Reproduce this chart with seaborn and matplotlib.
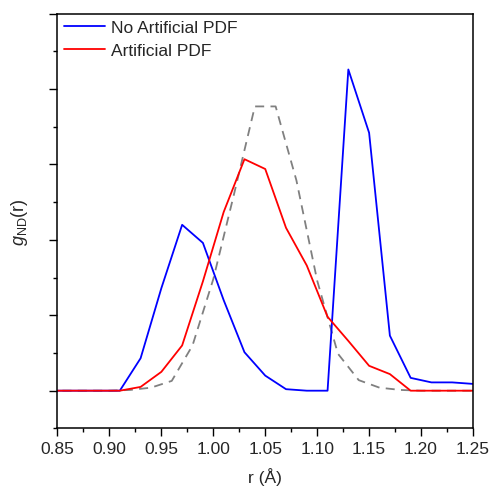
import numpy as np
import pandas as pd
import matplotlib
matplotlib.use("Agg")
import matplotlib.pyplot as plt
import seaborn as sns

# ---- data ----
r_main = [0.85, 0.87, 0.89, 0.91, 0.93, 0.95, 0.97, 0.99, 1.01, 1.03, 1.05,
          1.07, 1.09, 1.11, 1.13, 1.15, 1.17, 1.19, 1.21, 1.23, 1.25]
g_no_art = [0.0, 0.0, 0.0, 0.0, 0.43, 1.36, 2.20, 1.96, 1.20, 0.51, 0.20,
            0.02, 0.0, 0.0, 4.26, 3.42, 0.73, 0.17, 0.11, 0.11, 0.09]
g_art = [0.0, 0.0, 0.0, 0.0, 0.05, 0.25, 0.60, 1.45, 2.37, 3.07, 2.94,
         2.16, 1.66, 0.98, 0.66, 0.33, 0.22, 0.0, 0.0, 0.0, 0.0]
r_ref = [0.84, 0.86, 0.88, 0.90, 0.92, 0.94, 0.96, 0.98, 1.00, 1.02, 1.04,
         1.06, 1.08, 1.10, 1.12, 1.14, 1.16, 1.18, 1.20, 1.22, 1.24, 1.26]
g_ref = [0.0, 0.0, 0.0, 0.0, 0.01, 0.04, 0.13, 0.60, 1.48, 2.61, 3.77,
         3.77, 2.79, 1.46, 0.49, 0.14, 0.04, 0.01, 0.0, 0.0, 0.0, 0.0]
labels = ["No Artificial PDF", "Artificial PDF"]
x_ticks = [0.85, 0.90, 0.95, 1.00, 1.05, 1.10, 1.15, 1.20, 1.25]

sns.set_style("ticks")
plt.rcParams['font.family'] = ['Liberation Sans', 'DejaVu Sans']
plt.rcParams['mathtext.fontset'] = 'custom'
plt.rcParams['mathtext.rm'] = 'Liberation Sans'
plt.rcParams['mathtext.it'] = 'Liberation Sans:italic'

df = pd.DataFrame({
    "r": r_main * 2,
    "g": g_no_art + g_art,
    "series": [labels[0]] * len(r_main) + [labels[1]] * len(r_main),
})
df_ref = pd.DataFrame({"r": r_ref, "g": g_ref})

fig = plt.figure(figsize=(4.91, 4.89), dpi=100)
ax = fig.add_axes([0.1171, 0.1219, 0.9633 - 0.1171, 0.970 - 0.1219])

sns.lineplot(data=df_ref, x="r", y="g", ax=ax, color="#808080", lw=1.3,
             dashes=False, legend=False)
ax.lines[-1].set_dashes((5, 3.5))
sns.lineplot(data=df, x="r", y="g", hue="series", ax=ax,
             palette={labels[0]: "#0000ff", labels[1]: "#ff0000"}, lw=1.3)

ax.set_xlim(0.85, 1.25)
ax.set_ylim(-0.5, 5.0)
ax.set_xticks(x_ticks)
ax.set_xticklabels([f"{v:.2f}" for v in x_ticks])
ax.set_xticks(np.arange(0.875, 1.25, 0.05), minor=True)
ax.set_yticks(np.arange(0, 5.01, 1.0))
ax.set_yticks(np.arange(-0.5, 5.0, 1.0), minor=True)
ax.set_yticklabels([])
ax.tick_params(axis='both', which='major', direction='out', length=5.5,
               width=1.0, labelsize=12.5, color='black')
ax.tick_params(axis='both', which='minor', direction='out', length=3,
               width=1.0, color='black')
for s in ax.spines.values():
    s.set_visible(True)
    s.set_linewidth(1.1)
    s.set_color('black')

ax.set_xlabel("r (Å)", fontsize=12.5, labelpad=8)
ax.set_ylabel(r"$g_{\mathrm{ND}}(\mathrm{r})$", fontsize=13, labelpad=11)

leg = ax.legend(loc="upper left", frameon=False, fontsize=12.5,
                handlelength=2.4, handletextpad=0.35, borderaxespad=0.15,
                borderpad=0.2, labelspacing=0.47)
for h in leg.get_lines():
    h.set_linewidth(1.3)

fig.savefig("out.png", dpi=100)
